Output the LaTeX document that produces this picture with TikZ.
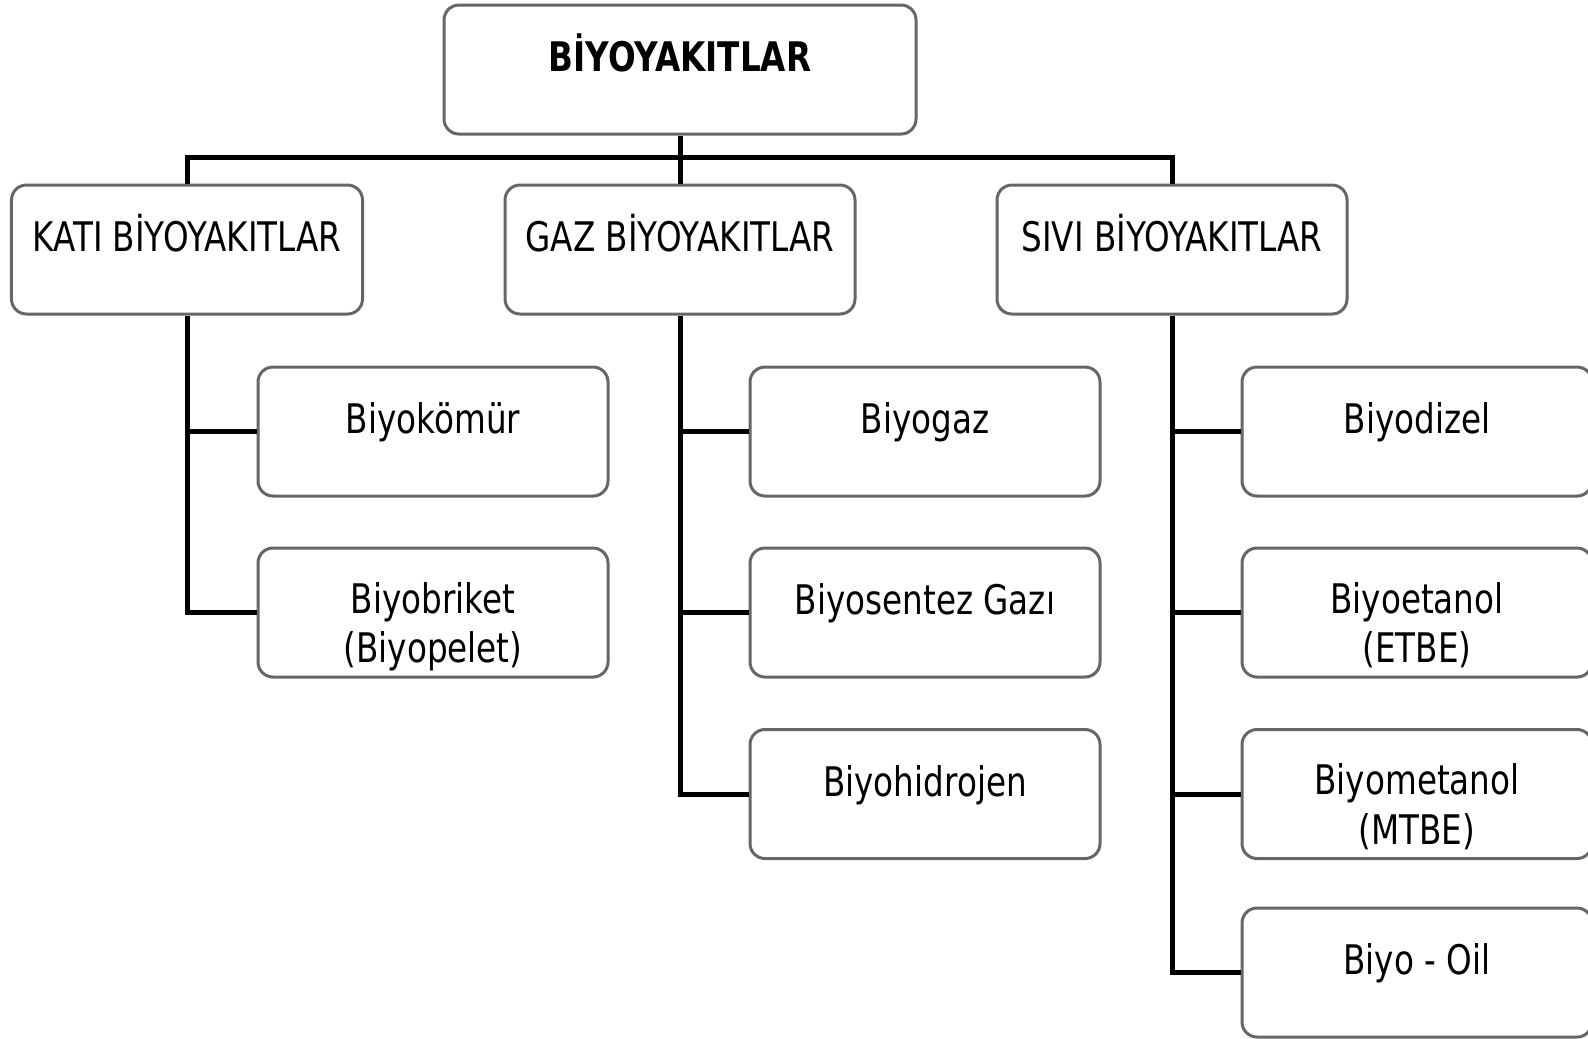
\documentclass[tikz,border=0pt]{standalone}
\usepackage{fontspec}
\setmainfont{DejaVu Sans}[FakeStretch=0.8]
\usepackage{tikz}

\begin{document}
\begin{tikzpicture}[box/.style = {draw=black!60, line width=0.03cm, rounded corners=0.15cm, minimum width=3.5cm, minimum height=1.29cm, align=center, font=\fontsize{11.6}{14}\selectfont},
	one/.style = {text height=0.34cm, text depth=0.30cm},
	two/.style = {text height=1.0cm, text depth=0cm},
	link/.style = {line width=0.05cm}]
	\useasboundingbox (0,0) rectangle (15.88,-10.38);
	\node[box, one, minimum width=4.72cm] (top) at (6.80,-0.695) {\bfseries BİYOYAKITLAR};
	
	\node[box, one, minimum width=3.51cm] (kati) at (1.87,-2.495) {KATI BİYOYAKITLAR};
	\node[box, one] (gaz) at (6.80,-2.495) {GAZ BİYOYAKITLAR};
	\node[box, one] (sivi) at (11.72,-2.495) {SIVI BİYOYAKITLAR};
	
	\node[box, one] (komur) at (4.33,-4.315) {Biyokömür};
	\node[box, two] (briket) at (4.33,-6.125) {Biyobriket\\(Biyopelet)};
	
	\node[box, one] (biyogaz) at (9.25,-4.315) {Biyogaz};
	\node[box, one] (sentez) at (9.25,-6.125) {Biyosentez Gazı};
	\node[box, one] (hidrojen) at (9.25,-7.94) {Biyohidrojen};
	
	\node[box, one] (dizel) at (14.17,-4.315) {Biyodizel};
	\node[box, two] (etanol) at (14.17,-6.125) {Biyoetanol\\(ETBE)};
	\node[box, two] (metanol) at (14.17,-7.94) {Biyometanol\\(MTBE)};
	\node[box, one] (oil) at (14.17,-9.725) {Biyo - Oil};
	
	\coordinate (bus) at (6.80,-1.57);
	\draw[link] (top.south) -- (bus);
	\draw[link] (bus) -| (kati.north);
	\draw[link] (bus) -- (gaz.north);
	\draw[link] (bus) -| (sivi.north);
	
	\draw[link] (kati.south) |- (komur.west);
	\draw[link] (kati.south) |- (briket.west);
	\draw[link] (gaz.south) |- (biyogaz.west);
	\draw[link] (gaz.south) |- (sentez.west);
	\draw[link] (gaz.south) |- (hidrojen.west);
	\draw[link] (sivi.south) |- (dizel.west);
	\draw[link] (sivi.south) |- (etanol.west);
	\draw[link] (sivi.south) |- (metanol.west);
	\draw[link] (sivi.south) |- (oil.west);
\end{tikzpicture}
\end{document}
